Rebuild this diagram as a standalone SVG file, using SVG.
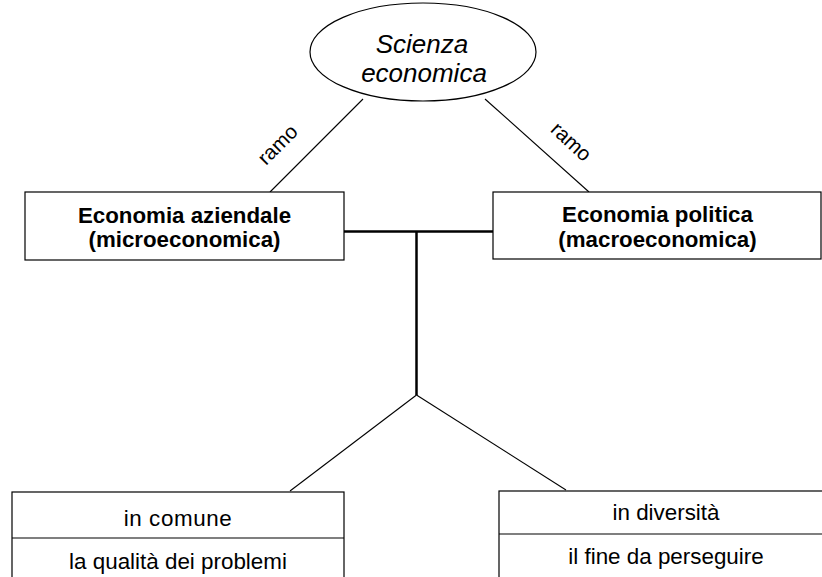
<svg xmlns="http://www.w3.org/2000/svg" width="822" height="577" viewBox="0 0 822 577">
  <style>
    .box { fill: #ffffff; stroke: #000000; stroke-width: 1.2; }
    .thin { fill: none; stroke: #000000; stroke-width: 1.1; }
    .thick { fill: none; stroke: #000000; stroke-width: 2.5; }
    text { font-family: "Liberation Sans", Arial, sans-serif; fill: #000000; text-anchor: middle; }
    .title { font-size: 26px; font-style: italic; }
    .bold { font-size: 22.3px; font-weight: bold; }
    .plain { font-size: 22.4px; }
    .label { font-size: 20.5px; }
  </style>
  <rect width="822" height="577" fill="#ffffff"/>

  <!-- connectors -->
  <g id="connectors">
    <line class="thin" x1="363" y1="99" x2="270" y2="192"/>
    <line class="thin" x1="485" y1="99" x2="589" y2="192"/>
    <line class="thick" x1="344" y1="231.5" x2="493" y2="231.5"/>
    <line class="thick" x1="416.5" y1="231.5" x2="416.5" y2="395"/>
    <line class="thin" x1="416.5" y1="395" x2="290" y2="491"/>
    <line class="thin" x1="416.5" y1="395" x2="566" y2="490"/>
    <text class="label" transform="translate(279,146) rotate(-45)" y="5">ramo</text>
    <text class="label" transform="translate(570,143) rotate(43)" y="5">ramo</text>
  </g>

  <!-- root concept -->
  <g id="scienza">
    <ellipse class="box" cx="423" cy="52" rx="113" ry="49"/>
    <text class="title" x="422" y="53">Scienza</text>
    <text class="title" x="424" y="82">economica</text>
  </g>

  <!-- branches -->
  <g id="aziendale">
    <rect class="box" x="25" y="192" width="319" height="68"/>
    <text class="bold" x="184.5" y="223">Economia aziendale</text>
    <text class="bold" x="184.5" y="247">(microeconomica)</text>
  </g>
  <g id="politica">
    <rect class="box" x="493" y="192" width="328" height="67"/>
    <text class="bold" x="657.5" y="222">Economia politica</text>
    <text class="bold" x="657.5" y="247">(macroeconomica)</text>
  </g>

  <!-- comparison -->
  <g id="comune">
    <rect class="box" x="12" y="492" width="332" height="100"/>
    <line class="thin" x1="12" y1="538" x2="344" y2="538"/>
    <text class="plain" x="178" y="525.5" letter-spacing="0.6">in comune</text>
    <text class="plain" x="178" y="569">la qualità dei problemi</text>
  </g>
  <g id="diversita">
    <rect class="box" x="499" y="491" width="334" height="100"/>
    <line class="thin" x1="499" y1="534" x2="833" y2="534"/>
    <text class="plain" x="666" y="520">in diversità</text>
    <text class="plain" x="666" y="564">il fine da perseguire</text>
  </g>
</svg>
